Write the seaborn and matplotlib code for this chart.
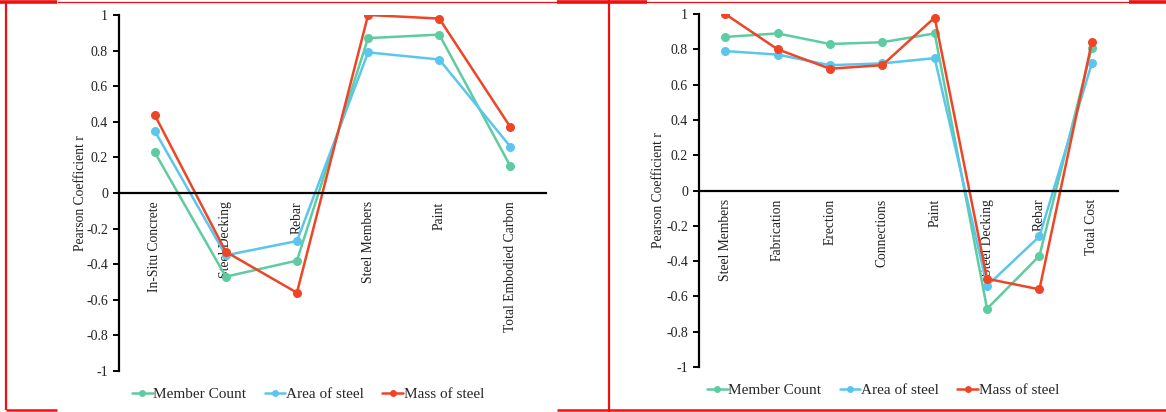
import matplotlib
matplotlib.use("Agg")
import matplotlib.pyplot as plt
from matplotlib.lines import Line2D
import seaborn as sns
import pandas as pd
import numpy as np

# ---- data ----
left_categories = ["In-Situ Concrete", "Steel Decking", "Rebar", "Steel Members", "Paint", "Total Embodied Carbon"]
left_member_count = [0.23, -0.47, -0.38, 0.87, 0.89, 0.15]
left_area_of_steel = [0.35, -0.35, -0.27, 0.79, 0.75, 0.26]
left_mass_of_steel = [0.44, -0.33, -0.56, 1.00, 0.98, 0.37]

right_categories = ["Steel Members", "Fabrication", "Erection", "Connections", "Paint", "Steel Decking", "Rebar", "Total Cost"]
right_member_count = [0.87, 0.89, 0.83, 0.84, 0.89, -0.67, -0.37, 0.81]
right_area_of_steel = [0.79, 0.77, 0.71, 0.72, 0.75, -0.54, -0.26, 0.72]
right_mass_of_steel = [1.00, 0.80, 0.69, 0.71, 0.98, -0.50, -0.56, 0.84]

series_names = ["Member Count", "Area of steel", "Mass of steel"]
y_ticks = [-1, -0.8, -0.6, -0.4, -0.2, 0, 0.2, 0.4, 0.6, 0.8, 1]

colors = {"Member Count": "#5ECBA1", "Area of steel": "#5BC6EC", "Mass of steel": "#EE4526"}

sns.set_theme(style="white")
plt.rcParams['font.family'] = ['Liberation Serif', 'DejaVu Serif']

fig = plt.figure(figsize=(11.66, 4.12), dpi=100)


def make_long(cats, a, b, c):
    rows = []
    for name, vals in zip(series_names, [a, b, c]):
        for cat, v in zip(cats, vals):
            rows.append({"category": cat, "r": v, "series": name})
    return pd.DataFrame(rows)


def draw(ax, cats, a, b, c, legend_xy, ylabel_x):
    df = make_long(cats, a, b, c)
    sns.lineplot(data=df, x="category", y="r", hue="series", palette=colors,
                 hue_order=series_names, marker="o", markersize=6.5,
                 markeredgewidth=0, linewidth=1.8, sort=False, ax=ax, legend=False)
    n = len(cats)
    ax.spines["bottom"].set_position(("data", 0))
    ax.spines["top"].set_visible(False)
    ax.spines["right"].set_visible(False)
    for s in ["left", "bottom"]:
        ax.spines[s].set_color("black")
        ax.spines[s].set_linewidth(1.6)
    ax.set_xlim(-0.5, n - 0.5)
    ax.set_ylim(-1, 1)
    ax.set_yticks(y_ticks)
    ax.set_yticklabels([f"{v:g}" for v in y_ticks], fontsize=10)
    ax.set_xticks(range(n))
    ax.set_xticklabels(cats, rotation=90, fontsize=9.8, va="top", ha="center")
    ax.tick_params(axis="x", length=0, pad=6, colors="#222222")
    ax.tick_params(axis="y", length=4, width=1.4, direction="out", left=True, pad=4, colors="black")
    for lbl in ax.get_yticklabels() + ax.get_xticklabels():
        lbl.set_color("#222222")
    ax.set_xlabel("")
    ax.set_ylabel("Pearson Coefficient r", fontsize=9.8, color="#222222")
    ax.yaxis.set_label_coords(ylabel_x, 0.5)
    handles = [Line2D([0], [0], color=colors[s], marker="o", markersize=5,
                      markeredgewidth=0, linewidth=1.8) for s in series_names]
    fig.legend(handles, series_names, loc="center", bbox_to_anchor=legend_xy,
               ncol=3, frameon=False, fontsize=11, handlelength=1.35,
               handletextpad=0.05, columnspacing=1.2)


ax1 = fig.add_axes([119 / 1166, 1 - 371 / 412, (546 - 119) / 1166, (371 - 15) / 412])
ax2 = fig.add_axes([699 / 1166, 1 - 367 / 412, (1118 - 699) / 1166, (367 - 14) / 412])

draw(ax1, left_categories, left_member_count, left_area_of_steel, left_mass_of_steel,
     (308 / 1166, 1 - 394 / 412), -0.076)
draw(ax2, right_categories, right_member_count, right_area_of_steel, right_mass_of_steel,
     (883 / 1166, 1 - 390 / 412), -0.080)

# decorative red frame
W, H = 1166.0, 412.0
red = "#EE1111"


def fline(x0, y0, x1, y1, lw):
    fig.add_artist(Line2D([x0 / W, x1 / W], [1 - y0 / H, 1 - y1 / H],
                          transform=fig.transFigure, color=red, linewidth=lw,
                          solid_capstyle="butt"))


fline(6, 2, 6, 410, 1.6)
fline(609, 0, 609, 412, 1.6)
fline(57, 1.5, 1129, 1.5, 0.9)
fline(0, 1.5, 57, 1.5, 2.6)
fline(557, 1.5, 647, 1.5, 2.6)
fline(1129, 1.5, 1166, 1.5, 2.6)
fline(6, 410, 57, 410, 1.8)
fline(557, 410, 609, 410, 1.8)
fline(609, 410, 1166, 410, 1.8)

fig.savefig("out.png", dpi=100)
